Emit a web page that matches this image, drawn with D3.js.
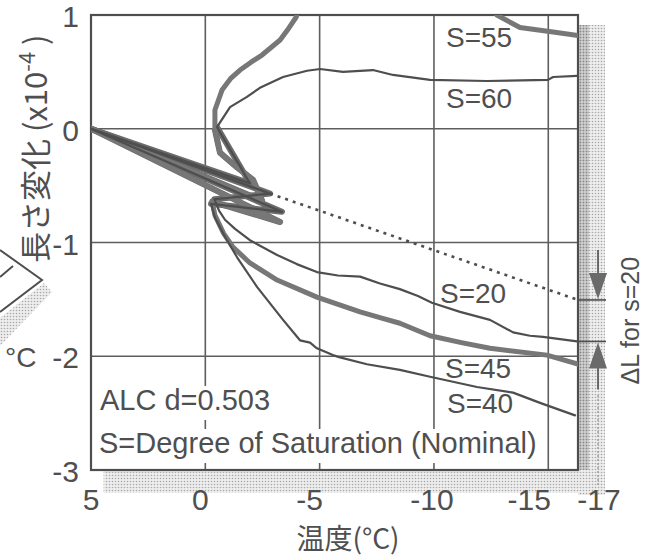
<!DOCTYPE html>
<html>
<head>
<meta charset="utf-8">
<script src="https://cdn.jsdelivr.net/npm/d3@7"></script>
<style>
  html, body { margin: 0; padding: 0; background: #fff; }
  svg { display: block; }
  text { font-family: "Liberation Sans", Arial, Helvetica, sans-serif; fill: #4f4f4f; }
  .cjk { font-family: "Noto Sans CJK JP", "Noto Sans CJK SC", sans-serif; }
</style>
</head>
<body>
<svg id="chart" width="646" height="559"></svg>
<script>
  //============================================================
  // Data: [temperature (°C), length change (x10^-4)]
  //------------------------------------------------------------

  var xTicks = [5, 0, -5, -10, -15, -17];
  var yTicks = [1, 0, -1, -2, -3];
  var xGrid = [0, -5, -10, -15];
  var yGrid = [0, -1, -2];

  var s20 = [[5, 0], [-2.83, -0.57], [-0.4, -0.62], [-0.6, -0.72], [-0.86, -0.80], [-1.3, -0.88],
    [-1.95, -0.98], [-3.14, -1.11], [-4.0, -1.19], [-4.88, -1.26], [-5.8, -1.29], [-6.77, -1.30],
    [-7.64, -1.36], [-8.51, -1.41], [-9.3, -1.47], [-9.91, -1.53], [-11.14, -1.61], [-12.45, -1.68],
    [-13.46, -1.79], [-14.2, -1.82], [-14.77, -1.83], [-16.26, -1.87]];

  // linear contraction of S=20 carried on (dotted)
  var s20Extrap = [[-2.83, -0.57], [-16.3, -1.505]];

  var s40 = [[5, 0], [-3.35, -0.73], [-0.25, -0.66], [-0.42, -0.78], [-0.86, -0.95], [-1.39, -1.13],
    [-2.26, -1.39], [-3.40, -1.68], [-4.14, -1.86], [-4.58, -1.88], [-4.88, -1.93], [-5.58, -1.99],
    [-5.89, -2.01], [-7.07, -2.07], [-8.51, -2.12], [-9.83, -2.18], [-11.88, -2.27], [-13.46, -2.32],
    [-14.64, -2.41], [-16.17, -2.52]];

  var s45 = [[5, 0], [-3.27, -0.82], [-0.3, -0.64], [-0.42, -0.76], [-0.8, -0.92], [-1.21, -1.04],
    [-1.95, -1.18], [-3.14, -1.33], [-4.88, -1.48], [-6.77, -1.61], [-7.64, -1.66], [-8.51, -1.71],
    [-9.83, -1.82], [-11.2, -1.88], [-12.45, -1.93], [-14.94, -1.99], [-16.3, -2.07]];

  // goes off the top of the plot between -4 and -12.75 °C
  var s55 = [[5, 0], [-2.48, -0.63], [-2.09, -0.45], [-1.39, -0.34], [-0.64, -0.21], [-0.42, -0.01],
    [-0.42, 0.165], [-0.73, 0.34], [-1.1, 0.44], [-1.52, 0.516], [-2.0, 0.585], [-2.48, 0.648],
    [-3.27, 0.78], [-3.6, 0.87], [-3.97, 0.98], [-4.0, 1.0], null,
    [-12.75, 1.0], [-13.76, 0.89], [-15.21, 0.85], [-16.3, 0.82]];

  var s60 = [[5, 0], [-1.95, -0.48], [-0.51, 0.015], [-1.08, 0.19], [-1.82, 0.28], [-2.39, 0.36],
    [-3.40, 0.455], [-4.45, 0.51], [-5.02, 0.525], [-6.02, 0.50], [-7.33, 0.516], [-8.21, 0.473],
    [-9.83, 0.429], [-12.32, 0.42], [-14.99, 0.43], [-15.21, 0.455], [-16.26, 0.464]];

  //============================================================
  // Setup
  //------------------------------------------------------------

  var svg = d3.select('#chart');
  var x = d3.scaleLinear().domain([5, -16.3]).range([91, 578]);
  var y = d3.scaleLinear().domain([-3, 1]).range([470, 15]);

  var ink = '#4e4e4e',
    gridInk = '#5e5e5e',
    thickInk = '#777777';

  // small shifts of the x tick labels, as printed
  var xTickNudge = [0, -5, -10, -2, -19, 5];

  var defs = svg.append('defs');

  function stipple(id, bg, dot, r) {
    var p = defs.append('pattern').attr('id', id)
      .attr('width', 3).attr('height', 3).attr('patternUnits', 'userSpaceOnUse');
    p.append('rect').attr('width', 3).attr('height', 3).attr('fill', bg);
    p.append('circle').attr('cx', 1.5).attr('cy', 1.5).attr('r', r).attr('fill', dot);
  }
  stipple('dotsDark', '#d4d4d4', '#8a8a8a', 1);
  stipple('dotsLight', '#eeeeee', '#a8a8a8', 0.8);

  defs.append('clipPath').attr('id', 'plotClip')
    .append('rect')
    .attr('x', x(5)).attr('y', y(1))
    .attr('width', x(-16.3) - x(5)).attr('height', y(-3) - y(1));

  //------------------------------------------------------------
  // Shadow strips round the frame

  svg.append('rect').attr('x', x(-16.3)).attr('y', y(1) + 10)
    .attr('width', 27).attr('height', y(-3) - y(1) + 15)
    .attr('fill', 'url(#dotsLight)');
  svg.append('rect').attr('x', x(-16.3)).attr('y', y(1) + 10)
    .attr('width', 11).attr('height', y(-3) - y(1) - 10)
    .attr('fill', 'url(#dotsDark)');
  svg.append('rect').attr('x', x(4.45)).attr('y', y(-3))
    .attr('width', x(-16.3) + 27 - x(4.45)).attr('height', 23)
    .attr('fill', 'url(#dotsLight)');
  svg.append('line')
    .attr('x1', x(-17) + 4).attr('x2', x(-17) + 4).attr('y1', 395).attr('y2', 486)
    .attr('stroke', '#a0a0a0').attr('stroke-width', 1.5).attr('stroke-dasharray', '2,2');

  //------------------------------------------------------------
  // Grid and frame

  var g = svg.append('g');

  g.selectAll('.vgrid').data(xGrid).enter().append('line')
    .attr('class', 'vgrid')
    .attr('x1', function(d) { return x(d); })
    .attr('x2', function(d) { return x(d); })
    .attr('y1', y(1)).attr('y2', y(-3))
    .attr('stroke', gridInk).attr('stroke-width', 1.6);

  g.selectAll('.hgrid').data(yGrid).enter().append('line')
    .attr('class', 'hgrid')
    .attr('x1', x(5)).attr('x2', x(-16.3))
    .attr('y1', function(d) { return y(d); })
    .attr('y2', function(d) { return y(d); })
    .attr('stroke', gridInk).attr('stroke-width', 1.6);

  //------------------------------------------------------------
  // Notes (white behind them cuts the grid)

  function note(txt, tx, ty, size) {
    var t = svg.append('text').attr('x', tx).attr('y', ty)
      .style('font-size', size + 'px').text(txt);
    var b = t.node().getBBox();
    svg.insert('rect', function() { return t.node(); })
      .attr('x', b.x - 3).attr('y', b.y + 2)
      .attr('width', b.width + 6).attr('height', b.height + 2)
      .attr('fill', '#fff');
    return t;
  }
  note('ALC d=0.503', 100, 410, 29);
  note('S=Degree of Saturation (Nominal)', 99, 453, 29);

  svg.append('rect')
    .attr('x', x(5)).attr('y', y(1))
    .attr('width', x(-16.3) - x(5)).attr('height', y(-3) - y(1))
    .attr('fill', 'none').attr('stroke', ink).attr('stroke-width', 2.2);

  //------------------------------------------------------------
  // Curves

  var line = d3.line()
    .defined(function(d) { return d != null; })
    .x(function(d) { return x(d[0]); })
    .y(function(d) { return y(d[1]); });

  var curves = svg.append('g').attr('clip-path', 'url(#plotClip)');

  // cool = how many leading points make the cooling / freezing part
  var series = [
    { data: s55, w: 5, c: thickInk, cool: 6 },
    { data: s45, w: 5, c: thickInk, cool: 3 },
    { data: s20, w: 2.2, c: ink, cool: 3 },
    { data: s40, w: 2.2, c: ink, cool: 3 },
    { data: s60, w: 2.2, c: ink, cool: 3 }
  ];

  // the heavy grey band where the cooling runs pile up
  series.forEach(function(s) {
    curves.append('path')
      .datum(s.data.slice(0, s.cool))
      .attr('d', line)
      .attr('fill', 'none')
      .attr('stroke', '#6c6c6c')
      .attr('stroke-width', 6)
      .attr('stroke-linejoin', 'round')
      .attr('stroke-linecap', 'round');
  });

  series.forEach(function(s) {
    curves.append('path')
      .datum(s.data)
      .attr('d', line)
      .attr('fill', 'none')
      .attr('stroke', s.c)
      .attr('stroke-width', s.w)
      .attr('stroke-linejoin', 'round')
      .attr('stroke-linecap', 'round');
  });

  curves.append('path')
    .datum(s20Extrap)
    .attr('d', line)
    .attr('fill', 'none')
    .attr('stroke', ink)
    .attr('stroke-width', 2.6)
    .attr('stroke-dasharray', '3,5');

  //------------------------------------------------------------
  // Series labels

  var labels = [
    { t: 'S=55', px: 446, py: 47 },
    { t: 'S=60', px: 446, py: 108 },
    { t: 'S=20', px: 440, py: 303 },
    { t: 'S=45', px: 445, py: 378 },
    { t: 'S=40', px: 447, py: 413 }
  ];
  svg.selectAll('.slabel').data(labels).enter().append('text')
    .attr('class', 'slabel')
    .attr('x', function(d) { return d.px; })
    .attr('y', function(d) { return d.py; })
    .style('font-size', '28px')
    .text(function(d) { return d.t; });

  //------------------------------------------------------------
  // Delta L marker for S=20

  var topY = y(s20Extrap[s20Extrap.length - 1][1]),
    botY = y(s20[s20.length - 1][1]),
    ax = x(-17) + 4;

  [topY, botY].forEach(function(v) {
    svg.append('line').attr('x1', x(-16.3)).attr('x2', x(-16.3) + 28)
      .attr('y1', v).attr('y2', v)
      .attr('stroke', ink).attr('stroke-width', 1.6);
  });
  svg.append('line').attr('x1', ax).attr('x2', ax).attr('y1', topY - 50).attr('y2', topY - 20)
    .attr('stroke', ink).attr('stroke-width', 1.6);
  svg.append('path')
    .attr('d', 'M' + (ax - 9) + ',' + (topY - 27) + 'L' + (ax + 9) + ',' + (topY - 27) + 'L' + ax + ',' + (topY - 1) + 'Z')
    .attr('fill', '#6a6a6a');
  svg.append('line').attr('x1', ax).attr('x2', ax).attr('y1', botY + 20).attr('y2', botY + 48)
    .attr('stroke', ink).attr('stroke-width', 1.6);
  svg.append('path')
    .attr('d', 'M' + (ax - 9) + ',' + (botY + 27) + 'L' + (ax + 9) + ',' + (botY + 27) + 'L' + ax + ',' + (botY + 1) + 'Z')
    .attr('fill', '#6a6a6a');

  svg.append('text')
    .attr('transform', 'translate(639,' + ((topY + botY) / 2) + ') rotate(-90)')
    .attr('text-anchor', 'middle')
    .style('font-size', '25px')
    .text('\u0394L for s=20');

  //------------------------------------------------------------
  // Tick labels and titles

  svg.selectAll('.ytick').data(yTicks).enter().append('text')
    .attr('class', 'ytick')
    .attr('x', 79)
    .attr('y', function(d) { return y(d) + 12; })
    .attr('text-anchor', 'end')
    .style('font-size', '30px')
    .text(function(d) { return d; });

  svg.selectAll('.xtick').data(xTicks).enter().append('text')
    .attr('class', 'xtick')
    .attr('x', function(d, i) { return x(d) + xTickNudge[i]; })
    .attr('y', 510)
    .attr('text-anchor', 'middle')
    .style('font-size', '30px')
    .text(function(d) { return d; });

  svg.append('text')
    .attr('class', 'cjk')
    .attr('x', 348).attr('y', 549)
    .attr('text-anchor', 'middle')
    .style('font-size', '28px')
    .text('温度(°C)');

  var yTitle = svg.append('text')
    .attr('class', 'cjk')
    .attr('transform', 'translate(47,263) rotate(-90)')
    .style('font-size', '31px');
  yTitle.append('tspan').text('長さ変化 (x10');
  yTitle.append('tspan').attr('dy', -12).style('font-size', '22px').text('-4');
  yTitle.append('tspan').attr('dy', 12).text(' )');

  //------------------------------------------------------------
  // Edge of the neighbouring figure, cut off at the left

  svg.append('path')
    .attr('d', 'M44,283L52,292L0,346L0,318Z')
    .attr('fill', 'url(#dotsLight)');
  svg.append('path')
    .attr('d', 'M0,250L42,280L0,312M0,277L13,266')
    .attr('fill', 'none').attr('stroke', ink).attr('stroke-width', 2);
  svg.append('text').attr('x', 5).attr('y', 367)
    .style('font-size', '28px').text('°C');
</script>
</body>
</html>
